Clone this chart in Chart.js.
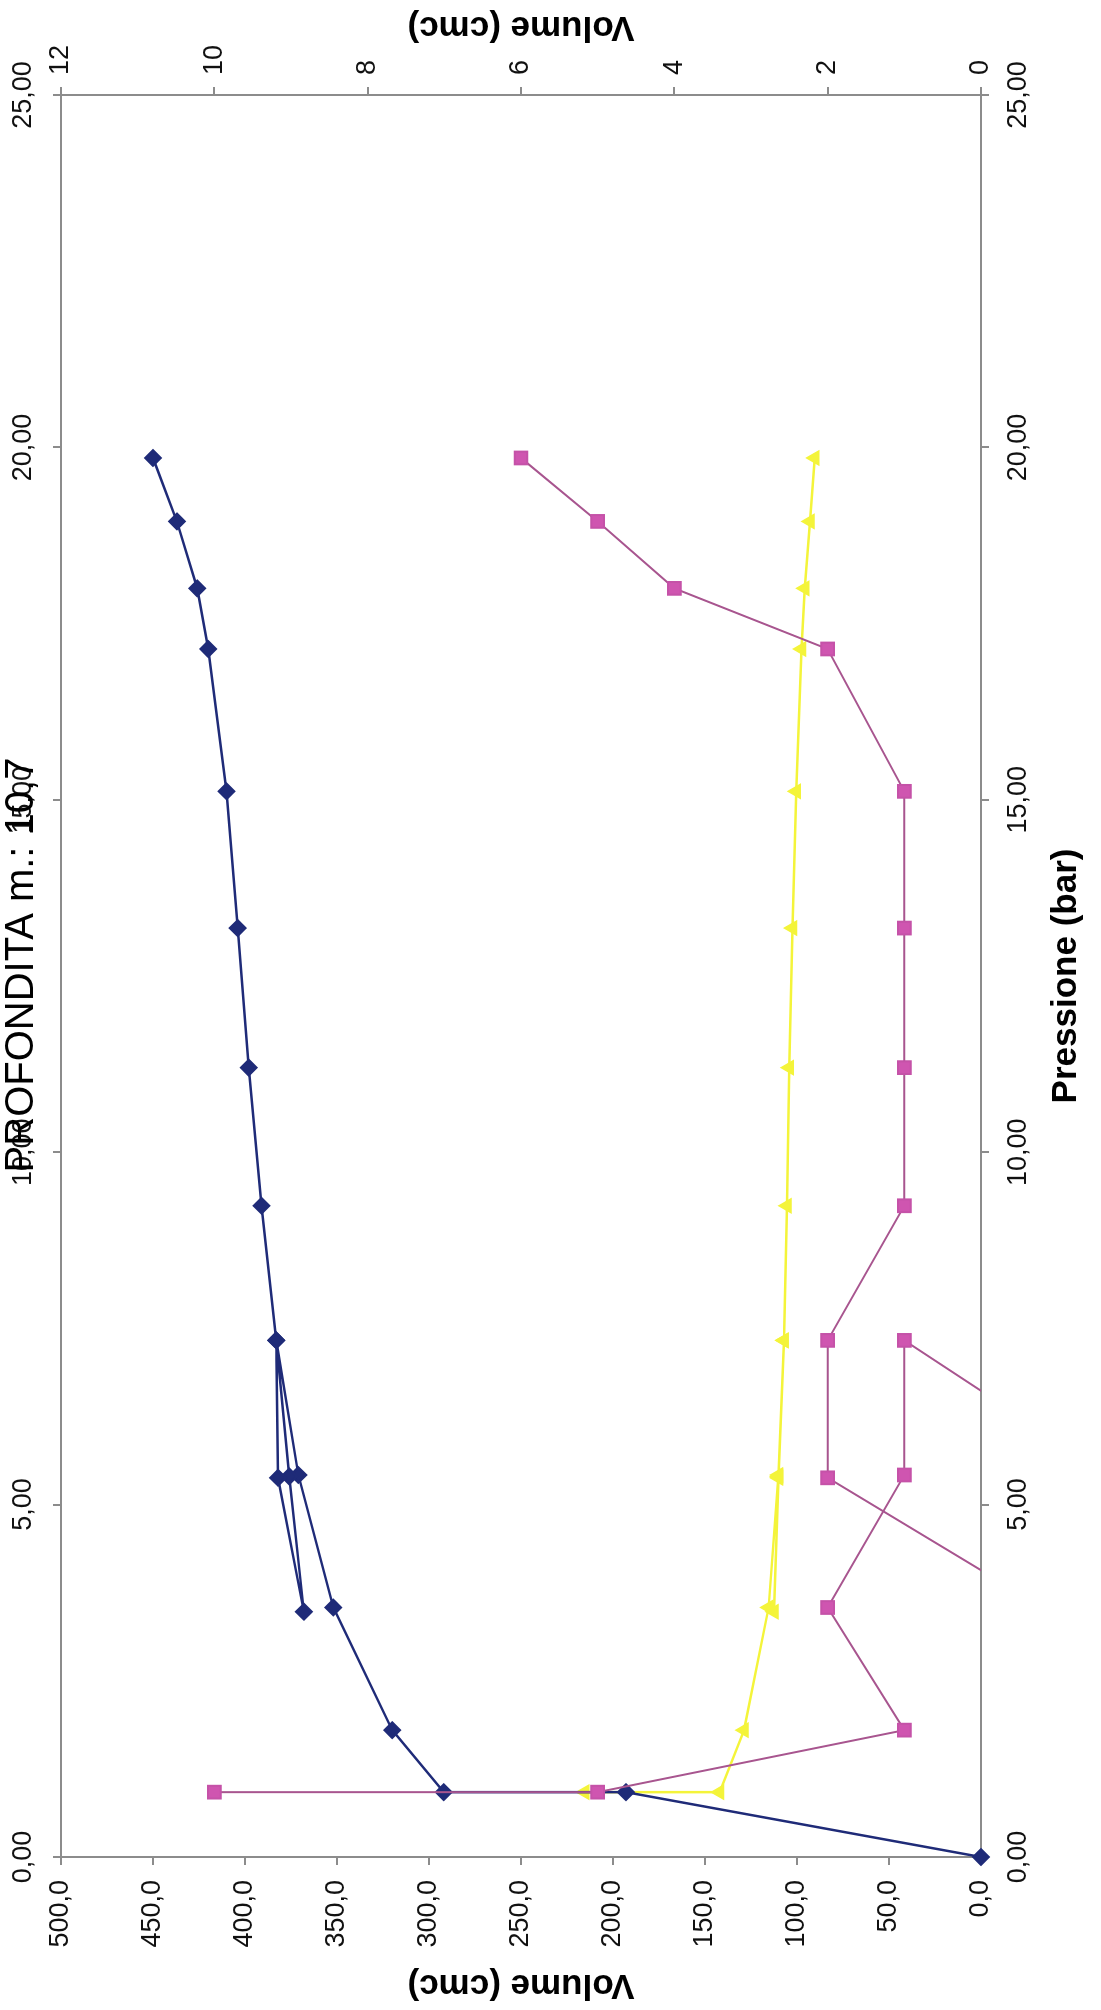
<!DOCTYPE html>
<html lang="it">
<head>
<meta charset="utf-8">
<title>Profondità m.: 10,7</title>
<script src="https://cdn.jsdelivr.net/npm/chart.js@4.4.1/dist/chart.umd.min.js"></script>
<style>
  html, body { margin: 0; padding: 0; background: #fff; }
  body { width: 1101px; height: 2010px; overflow: hidden; position: relative; }
  /* il grafico originale è ruotato di 90° in senso antiorario */
  #ruotato {
    position: absolute; left: 0; top: 0;
    width: 2010px; height: 1101px;
    transform-origin: 0 0;
    transform: translateY(2010px) rotate(-90deg);
  }
</style>
</head>
<body>
<div id="ruotato"><canvas id="grafico" width="2010" height="1101"></canvas></div>
<script>
// dati
const pressione = [0, 0.92, 0.92, 1.80, 3.54, 5.42, 7.33, 5.40, 3.48, 5.38, 7.33, 9.24, 11.20, 13.18, 15.12, 17.14, 18.00, 18.95, 19.85];
const volumeCumulato = [0, 193, 292, 320, 352, 371, 383, 376, 368, 382, 383, 391, 398, 404, 410, 420, 426, 437, 450]; // asse sinistro
const volumeParziale = [null, 10, 5, 1, 2, 1, 1, -1.7, -0.9, 2, 2, 1, 1, 1, 1, 2, 4, 5, 6]; // asse destro
const volumeMedio = [null, 5.17, 3.41, 3.09, 2.77, 2.64, 2.57, 2.64, 2.70, 2.64, 2.57, 2.53, 2.50, 2.46, 2.41, 2.34, 2.30, 2.23, 2.17]; // asse destro

const titolo = 'PROFONDITA m.: 10,7';
const titoloVolume = 'Volume (cmc)';
const titoloPressione = 'Pressione (bar)';

const grigio = '#8c8c8c';
const famiglia = '"Liberation Sans", Arial, Helvetica, sans-serif';
Chart.defaults.font.family = famiglia;
Chart.defaults.color = '#111';

function virgola(v, dec) {
  return Number(v).toFixed(dec).replace('.', ',');
}

function punti(valori) {
  return pressione.map((p, i) => ({ x: p, y: valori[i] }));
}

// titolo principale e titolo dell'asse secondario (capovolto come nell'originale)
const titoliExtra = {
  id: 'titoliExtra',
  afterDraw(chart) {
    const { ctx, chartArea } = chart;
    const cx = (chartArea.left + chartArea.right) / 2;
    const cy = (chartArea.top + chartArea.bottom) / 2;
    ctx.save();
    ctx.fillStyle = '#000';
    ctx.textAlign = 'center';
    ctx.textBaseline = 'alphabetic';
    ctx.font = '40px ' + famiglia;
    ctx.fillText(titolo, cx + 11, 33);

    ctx.font = 'bold 35px ' + famiglia;
    ctx.textBaseline = 'middle';
    ctx.translate(chart.width - 27, cy);
    ctx.rotate(-Math.PI / 2);
    ctx.fillText(titoloVolume, 0, 0);
    ctx.restore();
  }
};

function asseX(posizione, altezza, conTitolo) {
  return {
    type: 'linear',
    position: posizione,
    min: 0,
    max: 25,
    ticks: { stepSize: 5, padding: 13, font: { size: 27 }, callback: v => virgola(v, 2) },
    grid: { drawOnChartArea: false, tickLength: 8, color: grigio, lineWidth: 2 },
    border: { color: grigio, width: 2 },
    title: {
      display: conTitolo,
      text: titoloPressione,
      color: '#000',
      font: { size: 35, weight: 'bold' },
      padding: { top: 0, bottom: 14 }
    },
    afterFit(s) { s.height = altezza; }
  };
}

const ctx = document.getElementById('grafico').getContext('2d');

const grafico = new Chart(ctx, {
  type: 'line',
  data: {
    datasets: [
      {
        label: 'Volume cumulato',
        data: punti(volumeCumulato),
        xAxisID: 'x',
        yAxisID: 'y',
        order: 1,
        borderColor: '#1f2b78',
        backgroundColor: '#1f2b78',
        borderWidth: 2.5,
        pointStyle: 'rectRot',
        pointRadius: 7.5,
        pointBorderColor: '#1f2b78',
        pointBackgroundColor: '#1f2b78',
        clip: false
      },
      {
        label: 'Volume parziale',
        data: punti(volumeParziale),
        xAxisID: 'x',
        yAxisID: 'y2',
        order: 0,
        borderColor: '#a8558f',
        backgroundColor: '#cf55b0',
        borderWidth: 2,
        pointStyle: 'rect',
        pointRadius: 9,
        pointBorderColor: '#c552a8',
        pointBackgroundColor: '#cf55b0',
        clip: 0
      },
      {
        label: 'Volume medio',
        data: punti(volumeMedio),
        xAxisID: 'x',
        yAxisID: 'y2',
        order: 2,
        borderColor: '#f4f43a',
        backgroundColor: '#f4f43a',
        borderWidth: 2.5,
        pointStyle: 'triangle',
        pointRadius: 7,
        pointBorderColor: '#f4f43a',
        pointBackgroundColor: '#f4f43a'
      }
    ]
  },
  options: {
    responsive: false,
    animation: false,
    devicePixelRatio: 1,
    layout: { padding: 0 },
    plugins: {
      legend: { display: false },
      tooltip: { enabled: false },
      title: { display: false }
    },
    elements: { line: { tension: 0 } },
    scales: {
      x: asseX('bottom', 120, true),
      x2: asseX('top', 61, false),
      y: {
        type: 'linear',
        position: 'left',
        min: 0,
        max: 500,
        ticks: { stepSize: 50, padding: 15, font: { size: 27 }, callback: v => virgola(v, 1) },
        grid: { drawOnChartArea: false, tickLength: 8, color: grigio, lineWidth: 2 },
        border: { color: grigio, width: 2 },
        title: {
          display: true,
          text: titoloVolume,
          color: '#000',
          font: { size: 35, weight: 'bold' },
          padding: { top: 4, bottom: 0 }
        },
        afterFit(s) { s.width = 153; }
      },
      y2: {
        type: 'linear',
        position: 'right',
        min: 0,
        max: 12,
        ticks: { stepSize: 2, padding: 12, font: { size: 27 }, callback: v => String(v) },
        grid: { drawOnChartArea: false, tickLength: 8, color: grigio, lineWidth: 2 },
        border: { color: grigio, width: 2 },
        afterFit(s) { s.width = 95; }
      }
    }
  },
  plugins: [titoliExtra]
});
</script>
</body>
</html>
